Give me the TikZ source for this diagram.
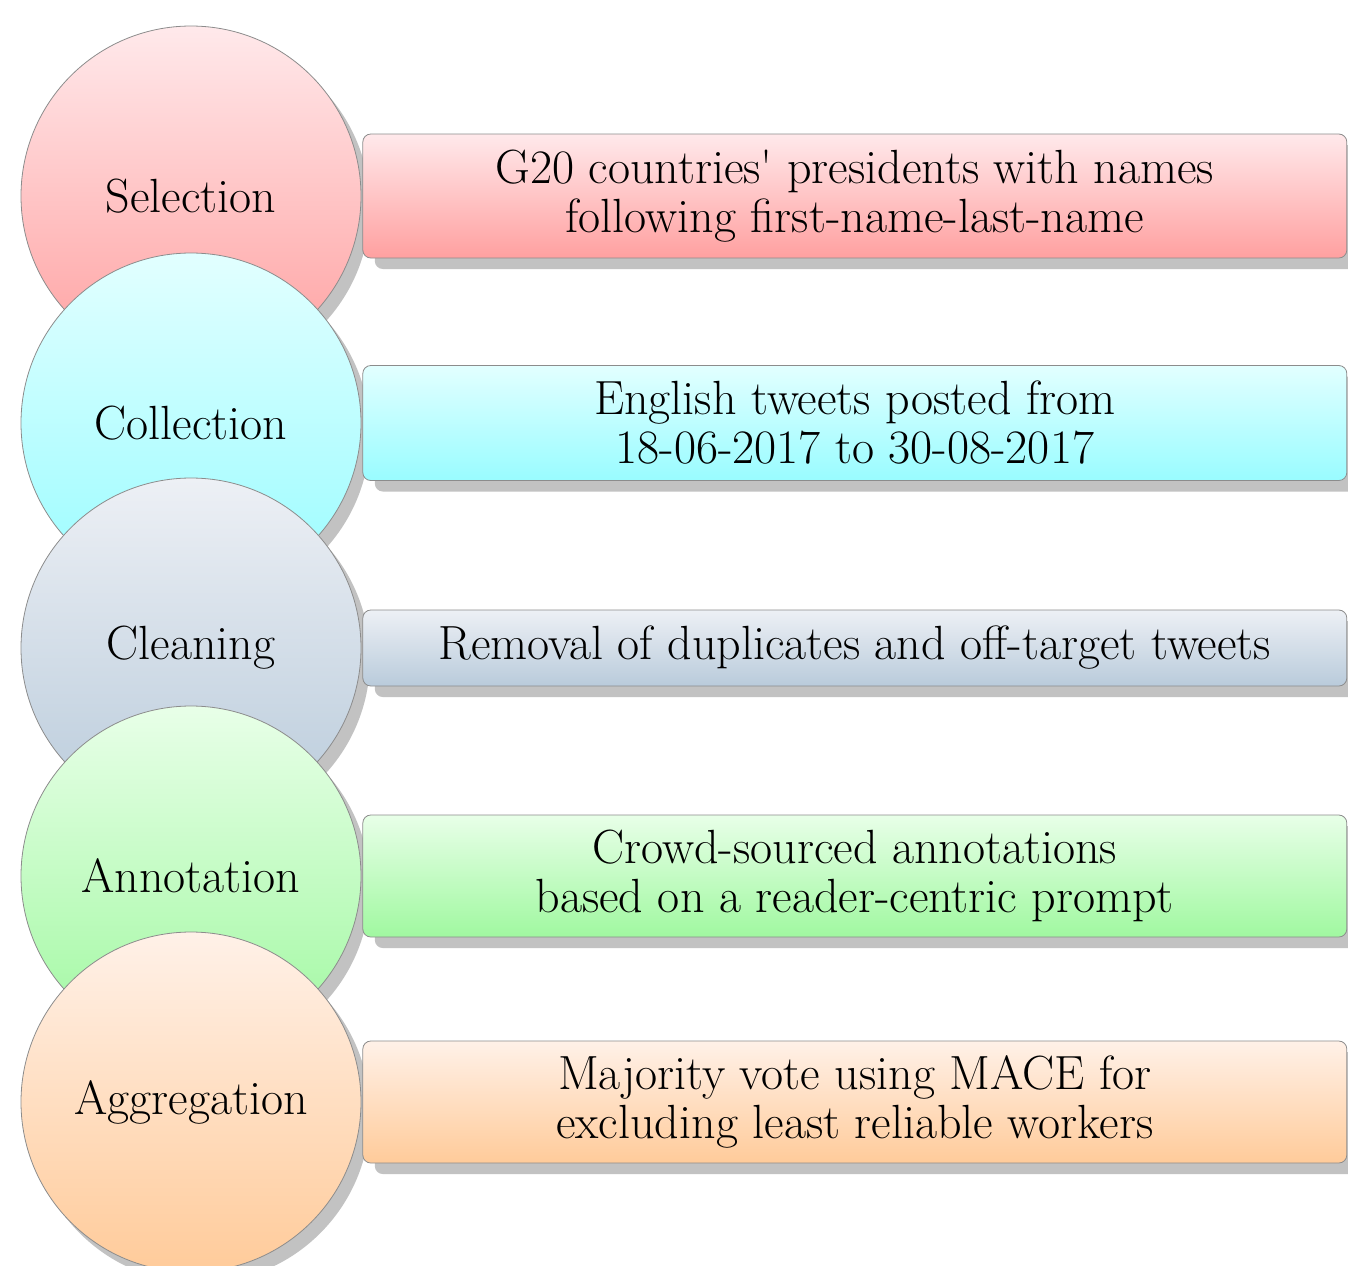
\documentclass[tikz,border=0pt]{standalone}
\usetikzlibrary{shadows,positioning}
\definecolor{selTop}{HTML}{FFE9EB}
\definecolor{selBot}{HTML}{FFA0A0}
\definecolor{colTop}{HTML}{E2FFFF}
\definecolor{colBot}{HTML}{99FCFF}
\definecolor{clnTop}{HTML}{EDF0F5}
\definecolor{clnBot}{HTML}{B9CBDB}
\definecolor{annTop}{HTML}{E8FFE8}
\definecolor{annBot}{HTML}{A0F8A0}
\definecolor{aggTop}{HTML}{FFF1E8}
\definecolor{aggBot}{HTML}{FFCB9A}
\definecolor{rim}{HTML}{8C8C8C}
\definecolor{shade}{HTML}{C2C2C2}
\tikzset{
	stage/.style={circle, draw=rim, line width=0.4pt, minimum size=170pt, inner sep=0pt,
		font=\fontsize{24}{24.5}\selectfont,
		drop shadow={shadow xshift=4.5pt, shadow yshift=-5.5pt, fill=shade, opacity=1}},
	detail/.style={rectangle, rounded corners=4pt, draw=rim, line width=0.4pt, minimum width=492pt,
		inner sep=0pt, align=center, font=\fontsize{24}{24.5}\selectfont,
		drop shadow={shadow xshift=6pt, shadow yshift=-5.5pt, fill=shade, opacity=1}}
}

\begin{document}
\begin{tikzpicture}[x=0.5pt,y=0.5pt,yscale=-1,xscale=1]
		\useasboundingbox (0,0) rectangle (1348,1265);
		% stages
		\node [stage, top color=selTop, bottom color=selBot] (sel) at (191,196) {Selection};
		\node [stage, top color=colTop, bottom color=colBot] (col) at (191,423) {Collection};
		\node [stage, top color=clnTop, bottom color=clnBot] (cln) at (191,648) {Cleaning};
		\node [stage, top color=annTop, bottom color=annBot] (ann) at (191,876) {Annotation};
		\node [stage, top color=aggTop, bottom color=aggBot] (agg) at (191,1102) {Aggregation};
		% descriptions
		\node [detail, minimum height=62pt, top color=selTop, bottom color=selBot, right=0.5pt of sel] (selnote) {G20 countries\textquotesingle{} presidents with names\\following first-name-last-name};
		\node [detail, minimum height=57.5pt, top color=colTop, bottom color=colBot, right=0.5pt of col] (colnote) {English tweets posted from\\18-06-2017 to 30-08-2017};
		\node [detail, minimum height=38pt, top color=clnTop, bottom color=clnBot, right=0.5pt of cln] (clnnote) {Removal of duplicates and off-target tweets};
		\node [detail, minimum height=61pt, top color=annTop, bottom color=annBot, right=0.5pt of ann] (annnote) {Crowd-sourced annotations\\based on a reader-centric prompt};
		\node [detail, minimum height=61pt, top color=aggTop, bottom color=aggBot, right=0.5pt of agg] (aggnote) {Majority vote using MACE for\\excluding least reliable workers};
\end{tikzpicture}
\end{document}
